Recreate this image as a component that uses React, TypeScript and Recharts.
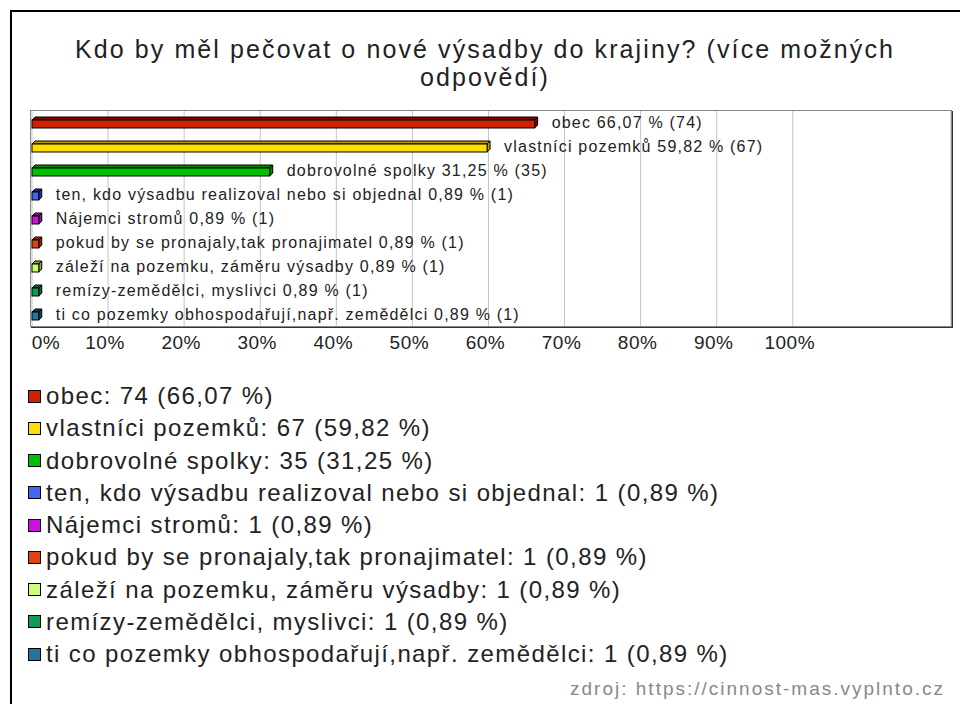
import { BarChart, Bar, XAxis, YAxis, CartesianGrid, Cell, LabelList } from "recharts";

const categories = [
  "obec",
  "vlastníci pozemků",
  "dobrovolné spolky",
  "ten, kdo výsadbu realizoval nebo si objednal",
  "Nájemci stromů",
  "pokud by se pronajaly,tak pronajimatel",
  "záleží na pozemku, záměru výsadby",
  "remízy-zemědělci, myslivci",
  "ti co pozemky obhospodařují,např. zemědělci",
];
const counts = [74, 67, 35, 1, 1, 1, 1, 1, 1];
const percents = [66.07, 59.82, 31.25, 0.89, 0.89, 0.89, 0.89, 0.89, 0.89];
const colors = ["#cc2200", "#ffdd00", "#00c000", "#4466ee", "#cc11dd", "#dd4411", "#ccff77", "#119955", "#227799"];
const topColors = ["#880000", "#bb9900", "#008800", "#223399", "#881199", "#992200", "#88aa44", "#0a6633", "#114455"];
const ticks = [0, 10, 20, 30, 40, 50, 60, 70, 80, 90, 100];

const FONT = '"Liberation Sans", Arial, sans-serif';
const fmt = (p: number) => p.toFixed(2).replace(".", ",");

const data = categories.map((name, i) => ({
  name,
  pct: percents[i],
  count: counts[i],
  label: `${name} ${fmt(percents[i])} % (${counts[i]})`,
}));

function Bar3D(props: any) {
  const { x, y, width, height, index } = props;
  const d = 3;
  const front = colors[index];
  const top = topColors[index];
  return (
    <g stroke="#000" strokeWidth={1}>
      <polygon
        points={`${x},${y + d} ${x + d},${y} ${x + width + d},${y} ${x + width},${y + d}`}
        fill={top}
      />
      <polygon
        points={`${x + width},${y + d} ${x + width + d},${y} ${x + width + d},${y + height - d} ${x + width},${y + height}`}
        fill={top}
      />
      <rect x={x} y={y + d} width={width} height={height - d} fill={front} />
    </g>
  );
}

function BarLabel(props: any) {
  const { x, y, width, height, value } = props;
  return (
    <text x={x + width + 17} y={y + height / 2 + 1} dominantBaseline="middle" fontSize={16} letterSpacing={1.2} fill="#222" fontFamily={FONT}>
      {value}
    </text>
  );
}

function Tick(props: any) {
  const { x, y, payload } = props;
  const v = payload.value;
  return (
    <text x={v === 0 ? x + 14 : x - 3} y={y + 15} textAnchor="middle" fontSize={19} letterSpacing={0.5} fill="#222" fontFamily={FONT}>
      {v}%
    </text>
  );
}

export default function App() {
  return (
    <div style={{ position: "absolute", left: 0, top: 0, width: 960, height: 704, background: "#fff", overflow: "hidden", fontFamily: FONT }}>
      <div style={{ position: "absolute", left: 10, top: 10, width: 960, height: 704, border: "2px solid #000", boxSizing: "border-box" }} />
      <div style={{ position: "absolute", left: 10, top: 35, width: 950, textAlign: "center", fontSize: 25, letterSpacing: 2.1, lineHeight: "28px", color: "#222" }}>
        Kdo by měl pečovat o nové výsadby do krajiny? (více možných
        <br />
        odpovědí)
      </div>
      <div style={{ position: "absolute", left: 0, top: 0 }}>
        <BarChart
          width={960}
          height={380}
          data={data}
          layout="vertical"
          margin={{ top: 110, left: 32, right: 9, bottom: 24 }}
          barCategoryGap={0}
        >
          <CartesianGrid horizontal={false} stroke="#c4c4c4" />
          <XAxis
            type="number"
            domain={[0, 120.8]}
            ticks={ticks}
            axisLine={false}
            tickLine={false}
            height={30}
            tick={<Tick />}
            interval={0}
          />
          <YAxis type="category" dataKey="name" hide />
          <Bar dataKey="pct" barSize={11} isAnimationActive={false} shape={<Bar3D />}>
            {data.map((_, i) => (
              <Cell key={i} fill={colors[i]} />
            ))}
            <LabelList dataKey="label" content={<BarLabel />} />
          </Bar>
        </BarChart>
      </div>
      <div style={{ position: "absolute", left: 30, top: 110, width: 920, height: 215, border: "1px solid #888", boxShadow: "1px 1px 0 #333", pointerEvents: "none" }} />
      {categories.map((name, i) => (
        <div key={name} style={{ position: "absolute", left: 28, top: 396 + i * 32.25 - 14, height: 28, display: "flex", alignItems: "center", fontSize: 24, letterSpacing: 1.4, color: "#222", whiteSpace: "nowrap" }}>
          <span style={{ display: "inline-block", width: 11, height: 11, background: colors[i], border: "1px solid #000", marginRight: 5 }} />
          {`${name}: ${counts[i]} (${fmt(percents[i])} %)`}
        </div>
      ))}
      <div style={{ position: "absolute", right: 15, top: 678, fontSize: 19, letterSpacing: 2, color: "#888" }}>
        zdroj: https://cinnost-mas.vyplnto.cz
      </div>
    </div>
  );
}
